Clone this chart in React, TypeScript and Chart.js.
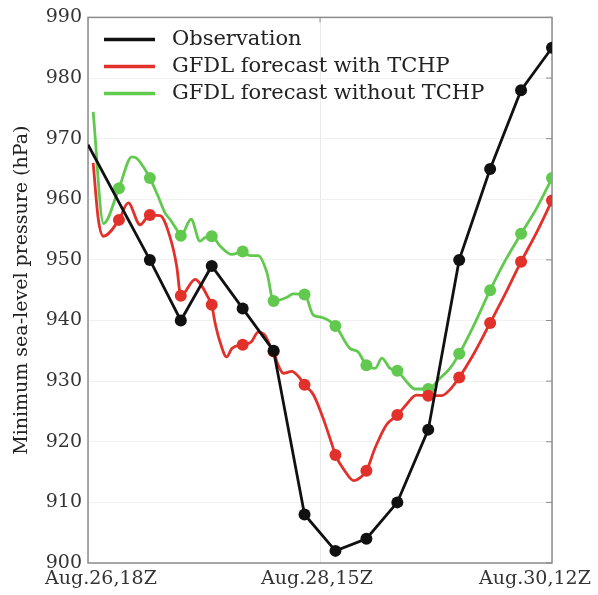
import React, { useEffect, useRef } from "react";
import { Chart, registerables } from "chart.js";

Chart.register(...registerables);

// Hours after Aug.26,18Z
const obsHours = [0, 12, 18, 24, 30, 36, 42, 48, 54, 60, 66, 72, 78, 84, 90];
const obsValues = [969, 950, 940, 949, 942, 935, 908, 902, 904, 910, 922, 950, 965, 978, 985];

const withHours = [1, 2, 3, 6, 7.8, 10.1, 12, 14, 15.9, 17.2, 18, 20.8, 22, 23.3, 24, 24.6, 25.6, 26.9, 27.9, 30, 31.7, 33, 34.3, 35.3, 36, 36.9, 37.9, 39.5, 40.8, 42, 43.7, 45.6, 47.3, 48, 49.8, 51.5, 52.8, 54, 55.7, 57.9, 60, 61.8, 63.7, 66, 68.6, 70.2, 72, 74.7, 78, 81, 84, 87, 90];
const withValues = [966, 956.7, 953.9, 956.6, 959.4, 955.8, 957.4, 957.3, 953.8, 949, 944.1, 946.8, 945.8, 943.8, 942.6, 939.8, 936.5, 934, 935.4, 936, 936.5, 938.1, 937.6, 935.9, 934.9, 932.6, 931.3, 931.6, 930.8, 929.4, 927.8, 923.9, 919.6, 917.8, 915.2, 913.6, 914.1, 915.2, 919, 922.8, 924.4, 926.2, 927.7, 927.6, 927.6, 928.6, 930.6, 934.3, 939.6, 944.5, 949.7, 954.5, 959.8];

const withoutHours = [1, 3, 6, 8.5, 9.4, 10.7, 12, 13.6, 14.9, 15.9, 17.2, 18, 20, 21.7, 22.7, 24, 25.6, 27.9, 30, 31.4, 33, 34.7, 36, 38.5, 39.8, 42, 43.7, 45, 48, 50.8, 52.4, 54, 55.7, 57, 58.6, 60, 61.8, 63.4, 66, 68.3, 70.2, 72, 75, 78, 81, 84, 87, 90];
const withoutValues = [974.4, 956, 961.8, 967, 966.8, 965.4, 963.5, 960.5, 957.8, 956.7, 955, 954, 956.7, 953.1, 953.7, 953.9, 952.3, 950.9, 951.4, 950.7, 950.7, 947.9, 943.2, 943.8, 944.4, 944.3, 940.9, 940.6, 939.1, 935.4, 934.8, 932.6, 932.1, 933.8, 932.1, 931.7, 929.9, 928.7, 928.7, 930.5, 932.1, 934.5, 939.5, 945, 950, 954.3, 958.5, 963.5];

const seriesLabels = ["Observation", "GFDL forecast with TCHP", "GFDL forecast without TCHP"];
const seriesColors = ["#111111", "#e2302a", "#62c94f"];

const xTickHours = [0, 45, 90];
const xTickLabels = ["Aug.26,18Z", "Aug.28,15Z", "Aug.30,12Z"];
const xLabelShift = [13, -3, -17];

const yTitle = "Minimum sea-level pressure (hPa)";
const FONT = "'DejaVu Serif', serif";

const toPoints = (hs: number[], vs: number[]) => hs.map((h, i) => ({ x: h, y: vs[i] }));
const markerRadius = (ctx: any) => {
  const h = ctx.raw ? ctx.raw.x : 0;
  return h > 0 && h % 6 === 0 ? 6 : 0;
};

const framePlugin = {
  id: "frame",
  beforeDatasetsDraw(chart: any) {
    const { ctx, chartArea: a, scales } = chart;
    ctx.save();
    ctx.strokeStyle = "#8c8c8c";
    ctx.lineWidth = 1.5;
    ctx.strokeRect(a.left, a.top, a.right - a.left, a.bottom - a.top);
    ctx.lineWidth = 1;
    ctx.beginPath();
    scales.y.ticks.forEach((t: any) => {
      const y = scales.y.getPixelForValue(t.value);
      ctx.moveTo(a.right, y);
      ctx.lineTo(a.right - 6, y);
    });
    const xm = scales.x.getPixelForValue(xTickHours[1]);
    ctx.moveTo(xm, a.top);
    ctx.lineTo(xm, a.top + 5);
    ctx.stroke();
    ctx.restore();
  },
  afterDraw(chart: any) {
    const { ctx, chartArea: a, scales } = chart;
    ctx.save();
    ctx.font = `19px ${FONT}`;
    ctx.fillStyle = "#333";
    ctx.textAlign = "center";
    ctx.textBaseline = "middle";
    xTickHours.forEach((h, i) => {
      ctx.fillText(xTickLabels[i], scales.x.getPixelForValue(h) + xLabelShift[i], a.bottom + 16);
    });
    // legend
    ctx.font = `21px ${FONT}`;
    ctx.textAlign = "left";
    chart.data.datasets.forEach((ds: any, i: number) => {
      const y = a.top + 22 + 27 * i;
      ctx.strokeStyle = ds.borderColor;
      ctx.lineWidth = 3.5;
      ctx.beginPath();
      ctx.moveTo(a.left + 16, y);
      ctx.lineTo(a.left + 67, y);
      ctx.stroke();
      ctx.fillStyle = "#222";
      ctx.fillText(ds.label, a.left + 84, y);
    });
    ctx.restore();
  },
};

export default function App() {
  const ref = useRef<HTMLCanvasElement | null>(null);
  useEffect(() => {
    if (!ref.current) return;
    const mk = (i: number, pts: any[], smooth: boolean) => ({
      label: seriesLabels[i],
      data: pts,
      borderColor: seriesColors[i],
      backgroundColor: seriesColors[i],
      pointBackgroundColor: seriesColors[i],
      pointBorderWidth: 0,
      borderWidth: 2.8,
      pointRadius: markerRadius,
      pointHoverRadius: markerRadius,
      cubicInterpolationMode: smooth ? "monotone" : "default",
      tension: 0,
      fill: false,
    });
    const chart = new Chart(ref.current, {
      type: "line",
      data: {
        datasets: [
          mk(0, toPoints(obsHours, obsValues), false),
          mk(1, toPoints(withHours, withValues), true),
          mk(2, toPoints(withoutHours, withoutValues), true),
        ] as any,
      },
      options: {
        animation: false,
        responsive: true,
        maintainAspectRatio: false,
        layout: { padding: { top: 13, right: 46, left: 0, bottom: 0 } },
        plugins: { legend: { display: false }, tooltip: { enabled: false } },
        scales: {
          x: {
            type: "linear",
            min: 0,
            max: 90,
            ticks: { stepSize: 45, display: false },
            grid: { color: "#e8e8e8", drawTicks: false },
            border: { display: false },
            afterFit: (s: any) => {
              s.height = 32;
            },
          },
          y: {
            min: 900,
            max: 990,
            ticks: { stepSize: 10, padding: 6, color: "#333", font: { family: FONT, size: 19 } },
            grid: { color: "#f1f1f1", drawTicks: false },
            border: { display: false },
            title: {
              display: true,
              text: yTitle,
              color: "#222",
              font: { family: FONT, size: 19 },
              padding: { top: 11, bottom: 0 },
            },
            afterFit: (s: any) => {
              s.width = 88;
            },
          },
        },
      } as any,
      plugins: [framePlugin],
    });
    return () => chart.destroy();
  }, []);
  return (
    <div style={{ position: "fixed", left: 0, top: 0, width: 598, height: 595, background: "#fff" }}>
      <canvas ref={ref} />
    </div>
  );
}
